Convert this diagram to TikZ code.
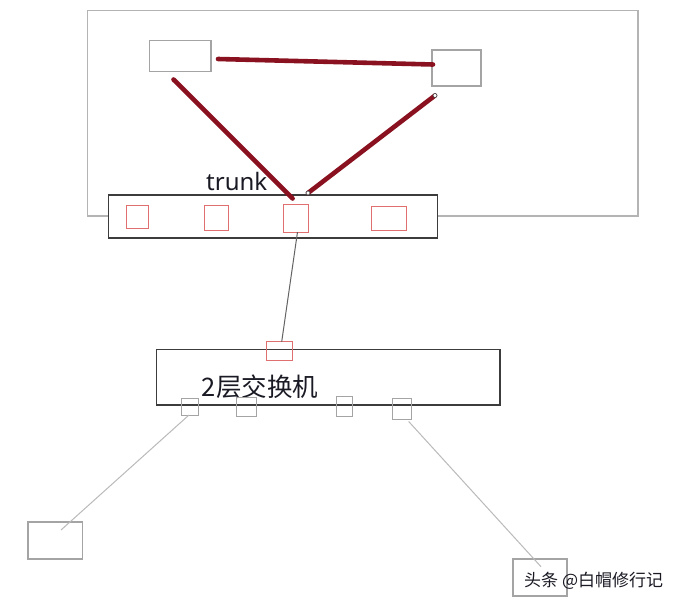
\documentclass[tikz,border=0pt]{standalone}
\usepackage{fontspec}
\setmainfont{Noto Sans}
\newfontfamily\cjk{Noto Sans CJK SC}
\definecolor{outergray}{HTML}{B4B4B4}
\definecolor{boxgray}{HTML}{A4A4A4}
\definecolor{darkline}{HTML}{3C3C3C}
\definecolor{portred}{HTML}{E07070}
\definecolor{trunkred}{HTML}{8A1220}
\definecolor{thingray}{HTML}{BABABA}
\definecolor{txt}{HTML}{1A1A24}
\begin{document}
\begin{tikzpicture}[x=1pt,y=-1pt,
  plain/.style={draw, inner sep=0pt, outer sep=0pt, rectangle},
  outerbox/.style={plain, draw=outergray, line width=1.3pt},
  hostbox/.style={plain, draw=boxgray, line width=1.2pt},
  switchbox/.style={plain, draw=darkline, line width=1.4pt, fill=white},
  redport/.style={plain, draw=portred, line width=1pt},
  grayport/.style={plain, draw=boxgray, line width=1pt},
  trunkline/.style={draw=trunkred, line width=4.6pt, line cap=round},
  thinline/.style={draw=thingray, line width=1pt},
  uplink/.style={draw=darkline!80, line width=1pt},
  endring/.style={circle, draw=darkline, fill=white, line width=0.6pt, inner sep=0pt, minimum size=4pt},
]
\useasboundingbox[fill=white] (0,0) rectangle (679,605);

% outer frame
\node[outerbox, minimum width=550.4pt, minimum height=205.3pt] (outer) at (362.8,113.4) {};

% hosts in the top area
\node[hostbox, minimum width=61.5pt, minimum height=31pt] (tl) at (180.25,56.2) {};
\node[hostbox, minimum width=49pt, minimum height=36pt] (tr) at (456.5,68) {};

% trunk switch bar
\node[switchbox, minimum width=329pt, minimum height=43pt] (bar) at (273.1,216.5) {};
\node[redport, minimum width=22pt, minimum height=23.7pt] (p1) at (137.7,216.9) {};
\node[redport, minimum width=24.5pt, minimum height=25.7pt] (p2) at (216.7,217.9) {};
\node[redport, minimum width=25pt, minimum height=28pt] (p3) at (295.5,218) {};
\node[redport, minimum width=34.4pt, minimum height=24pt] (p4) at (388.8,218.7) {};

\node[anchor=base west, inner sep=0pt, font=\fontsize{24}{24}\selectfont, text=txt] (trunk) at (206,190) {trunk};

% red trunk lines
\coordinate (a1) at (218,59);
\coordinate (a2) at (433,64.5);
\coordinate (b1) at (173.5,79.5);
\coordinate (b2) at (292.6,198.5);
\coordinate (c1) at (308,193);
\coordinate (c2) at (435,95.5);
\draw[trunkline] (a1) -- (a2);
\draw[trunkline] (b1) -- (b2);
\draw[trunkline] (c1) -- (c2);
\node[endring] (r1) at (c1) {};
\node[endring] (r2) at (c2) {};

% layer-2 switch
\node[plain, draw=darkline, line width=1.4pt, minimum width=343.3pt, minimum height=55.7pt] (l2) at (328.3,377.2) {};
\node[redport, minimum width=26pt, minimum height=18.3pt] (l2p) at (279,350.9) {};
\node[anchor=base west, inner sep=0pt, font=\cjk\fontsize{25.5}{25.5}\selectfont, text=txt] (l2t) at (201.7,396) {2层交换机};

\node[grayport, minimum width=17pt, minimum height=17pt] (g1) at (190,406.5) {};
\node[grayport, minimum width=20pt, minimum height=18.5pt] (g2) at (246,407.2) {};
\node[grayport, minimum width=16pt, minimum height=20pt] (g3) at (344.5,406) {};
\node[grayport, minimum width=19.5pt, minimum height=21pt] (g4) at (402.2,408.5) {};

\draw[uplink] ([xshift=2pt]p3.south) -- ([xshift=2.7pt]l2p.north);

% end hosts
\node[hostbox, minimum width=54.5pt, minimum height=37pt] (bl) at (55.25,540.5) {};
\node[hostbox, minimum width=54pt, minimum height=37pt] (br) at (540,577.5) {};
\coordinate (d2) at (61,530);
\coordinate (e2) at (541,566.7);
\draw[thinline] ([xshift=-1pt]g1.south) -- (d2);
\draw[thinline] ([xshift=6.5pt,yshift=-2.5pt]g4.south) -- (e2);

% watermark
\node[anchor=base west, inner sep=0pt, font=\cjk\fontsize{17}{17}\selectfont, text=txt] (wm) at (524,586.5) {头条 @白帽修行记};
\end{tikzpicture}
\end{document}
